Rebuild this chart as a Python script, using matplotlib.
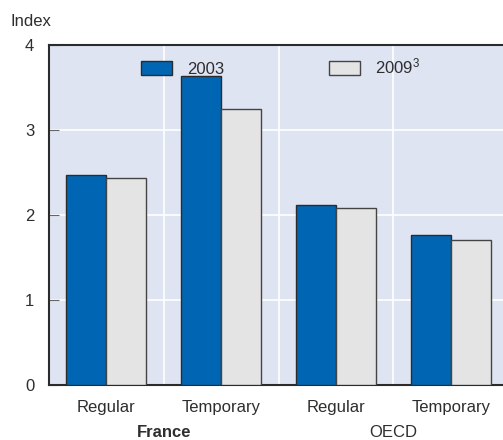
import matplotlib.pyplot as plt
import numpy as np
from matplotlib.patches import Patch

plt.rcParams['font.family'] = ['Liberation Sans', 'DejaVu Sans']
plt.rcParams['mathtext.default'] = 'regular'

categories = ['Regular', 'Temporary', 'Regular', 'Temporary']
groups = ['France', 'OECD']
values_2003 = [2.47, 3.63, 2.12, 1.76]
values_2009 = [2.44, 3.25, 2.08, 1.71]
series_names = ['2003', '2009$^3$']

blue = '#0066b3'
grey = '#e4e4e4'
bg = '#dfe4f3'
text_col = '#2e2e2e'
fs = 12

fig = plt.figure(figsize=(5.03, 4.40), dpi=100)
ax = fig.add_axes([49 / 503, 55 / 440, 459 / 503, 340 / 440])
ax.set_facecolor(bg)

x = np.arange(len(categories))
w = 0.348
ax.bar(x - w / 2, values_2003, w, color=blue, edgecolor='#2b2b2b', linewidth=1.0, zorder=3)
ax.bar(x + w / 2, values_2009, w, color=grey, edgecolor='#444444', linewidth=1.0, zorder=3)

ax.set_xlim(-0.5, 3.5)
ax.set_ylim(0, 4)
ax.set_yticks([0, 1, 2, 3, 4])
for y in [1, 2, 3]:
    ax.axhline(y, color='white', linewidth=1.2, zorder=1)
for xs in [0.5, 1.5, 2.5]:
    ax.axvline(xs, color='white', linewidth=1.2, zorder=1)

ax.set_xticks(x)
ax.set_xticklabels([])
ax.tick_params(axis='x', length=0)
for xi, c in zip(x, categories):
    ax.text(xi, -22 / 340, c, transform=ax.get_xaxis_transform(), ha='center', va='center',
            fontsize=fs, color=text_col)
ax.tick_params(axis='y', direction='in', length=7, color='#666666', labelsize=fs,
               labelcolor=text_col, pad=14)
for lab in ax.get_yticklabels():
    lab.set_horizontalalignment('center')

for s in ['left', 'bottom', 'top']:
    ax.spines[s].set_color('#2b2b2b')
    ax.spines[s].set_linewidth(1.5)
ax.spines['right'].set_visible(False)

ax.text(0.5, -47 / 340, groups[0], transform=ax.get_xaxis_transform(), ha='center', va='center',
        fontsize=fs, fontweight='bold', color=text_col)
ax.text(2.5, -47 / 340, groups[1], transform=ax.get_xaxis_transform(), ha='center', va='center',
        fontsize=fs, color=text_col)

fig.text(11 / 503, 1 - 21 / 440, 'Index', fontsize=fs, color=text_col, va='center', ha='left')

handles = [Patch(facecolor=blue, edgecolor='#2b2b2b', linewidth=1.0),
           Patch(facecolor=grey, edgecolor='#444444', linewidth=1.0)]
leg = ax.legend(handles, series_names, ncol=2, frameon=False, fontsize=fs,
                handlelength=1.85, handleheight=0.9, handletextpad=0.9,
                columnspacing=6.3, loc='upper left',
                bbox_to_anchor=((140 - 49) / 459 - 0.023, 1.0), borderaxespad=0.3)
for t in leg.get_texts():
    t.set_color(text_col)

fig.savefig('out.png', dpi=100)
